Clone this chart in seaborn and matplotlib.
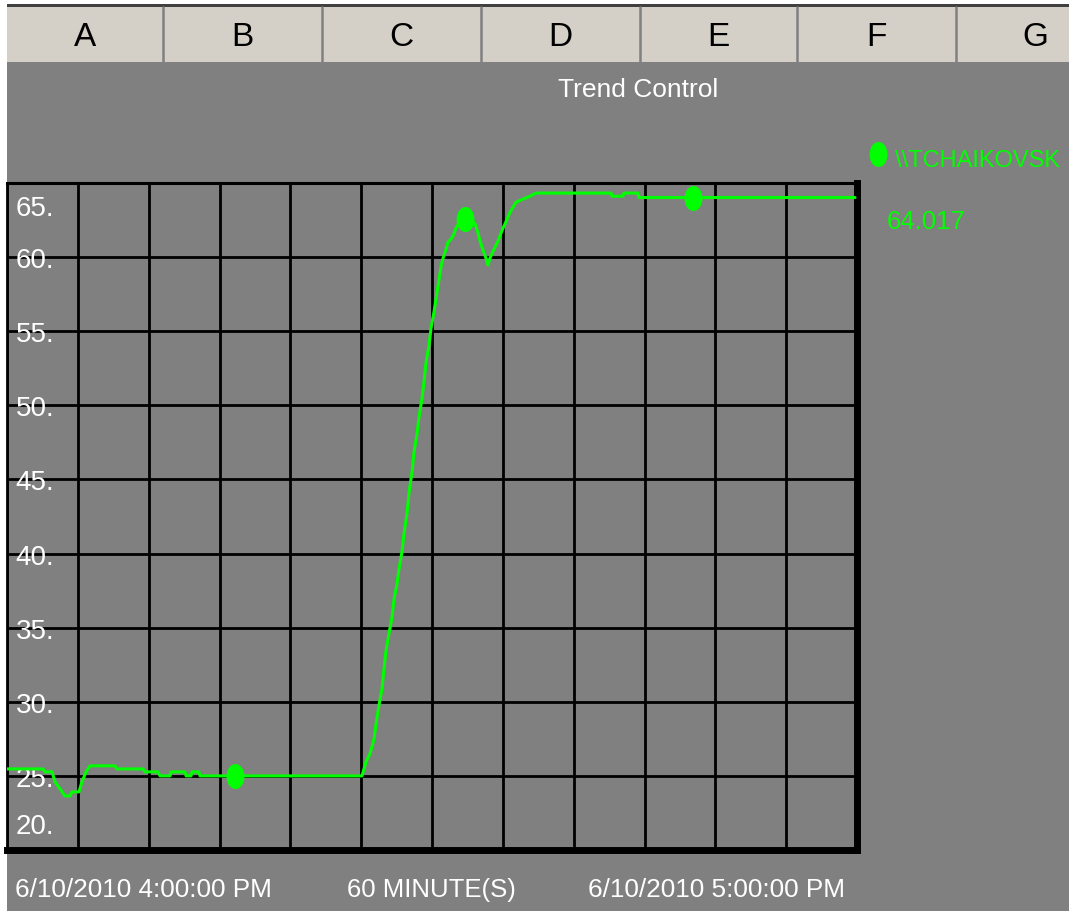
import numpy as np
import matplotlib
matplotlib.use("Agg")
import matplotlib.pyplot as plt
from matplotlib.path import Path
import seaborn as sns

# ==================== data (minutes since 4:00 PM, value) ====================
minutes = [0.00, 2.54, 2.68, 3.18, 3.39, 3.74, 4.09, 4.45, 4.59, 5.08, 5.29, 5.58,
           5.86, 7.62, 7.76, 9.60, 9.74, 10.66, 10.80, 11.51, 11.58, 12.56, 12.64,
           12.99, 13.06, 13.55, 13.62, 25.06, 25.20, 25.34, 25.62, 25.76, 25.91,
           26.05, 26.26, 26.47, 26.61, 26.75, 26.96, 27.18, 27.32, 27.53, 27.67,
           27.88, 28.02, 28.24, 28.38, 28.59, 28.73, 28.94, 29.08, 29.29, 29.44,
           29.58, 29.79, 29.93, 30.14, 30.28, 30.42, 30.56, 30.64, 30.78, 30.99,
           31.13, 31.34, 31.55, 31.69, 31.98, 32.33, 32.68, 33.04, 33.25, 33.39,
           33.60, 33.81, 33.95, 34.09, 34.31, 34.52, 34.66, 34.87, 35.01, 35.15,
           35.36, 35.51, 35.72, 35.93, 36.42, 36.92, 37.34, 42.64, 42.71, 43.48,
           43.55, 44.54, 44.61, 59.86]
values = [25.47, 25.47, 25.27, 25.27, 24.60, 24.13, 23.65, 23.65, 23.92, 23.92, 24.60, 25.27,
          25.68, 25.68, 25.47, 25.47, 25.27, 25.27, 25.00, 25.00, 25.27, 25.27, 25.00,
          25.00, 25.27, 25.27, 25.00, 25.00, 25.47, 25.95, 26.49, 26.96, 27.50,
          28.51, 29.79, 30.87, 32.22, 33.43, 34.58, 35.72, 36.94, 37.95, 38.96,
          40.11, 41.32, 42.74, 44.15, 45.50, 46.85, 48.06, 49.21, 50.42, 51.64,
          52.92, 54.07, 55.21, 56.29, 57.17, 58.04, 58.85, 59.39, 59.93, 60.54,
          61.01, 61.21, 61.55, 61.96, 62.43, 62.70, 62.63, 62.23, 61.62, 61.08,
          60.47, 59.93, 59.46, 59.93, 60.40, 60.81, 61.08, 61.62, 61.96, 62.23,
          62.70, 63.03, 63.37, 63.71, 63.91, 64.11, 64.32, 64.32, 64.11, 64.11,
          64.32, 64.32, 64.02, 64.02]
marker_minutes = [16.09, 32.33, 48.42]
marker_values = [25.0, 62.6, 64.02]

y_ticks = [65, 60, 55, 50, 45, 40, 35, 30, 25, 20]
columns = ["A", "B", "C", "D", "E", "F", "G"]
tag_name = "\\\\TCHAIKOVSK"
tag_value = "64.017"
start_label = "6/10/2010 4:00:00 PM"
span_label = "60 MINUTE(S)"
end_label = "6/10/2010 5:00:00 PM"
title = "Trend Control"

GREEN = "#00ff00"
GRAY = "#808080"
HEADER = "#d4d0c8"
FONT = ["Liberation Sans", "DejaVu Sans"]

sns.set_theme(style="white")
plt.rcParams["font.family"] = FONT

W, H = 1069, 912
fig = plt.figure(figsize=(W / 100, H / 100), dpi=100)
fig.patch.set_facecolor(GRAY)

# background / spreadsheet header in pixel coordinates
bg = fig.add_axes([0, 0, 1, 1])
bg.set_xlim(0, W)
bg.set_ylim(H, 0)
bg.axis("off")
bg.add_patch(plt.Rectangle((0, 0), 7, H, color="white", lw=0))
bg.add_patch(plt.Rectangle((0, 0), W, 5, color="white", lw=0))
bg.add_patch(plt.Rectangle((7, 5), W, 3, color="#404040", lw=0))
bg.add_patch(plt.Rectangle((7, 8), W, 55, color=HEADER, lw=0))
bounds = [7, 163, 322, 481, 640, 797, 956, 1114]
for b in bounds[1:-1]:
    bg.plot([b, b], [8, 63], color=GRAY, lw=1.8)
for i, c in enumerate(columns):
    bg.text((bounds[i] + bounds[i + 1]) / 2, 37, c, ha="center", va="center",
            fontsize=24, color="black")

bg.text(638, 90, title, ha="center", va="center", fontsize=19, color="white")

# legend
ell = Path.unit_circle()
ell = Path(ell.vertices * [0.7, 1.0], ell.codes)
bg.plot([878], [155], marker=ell, ms=17, color=GREEN, ls="none")
bg.text(895, 161, tag_name, ha="left", va="center", fontsize=17, color=GREEN)
bg.text(887, 222, tag_value, ha="left", va="center", fontsize=18.5, color=GREEN)

# bottom labels
bg.text(15, 890, start_label, ha="left", va="center", fontsize=18.8, color="white")
bg.text(347, 890, span_label, ha="left", va="center", fontsize=18.5, color="white")
bg.text(588, 890, end_label, ha="left", va="center", fontsize=18.8, color="white")

# ==================== trend plot ====================
ax = fig.add_axes([7 / W, 1 - 851 / H, 850 / W, 667 / H])
ax.set_facecolor(GRAY)
sns.lineplot(x=minutes, y=values, ax=ax, color=GREEN, lw=2.2, zorder=5)
ax.plot(marker_minutes, marker_values, marker=ell, ms=17, color=GREEN, ls="none",
        zorder=6, clip_on=False)

ax.set_xlim(0, 60)
ax.set_ylim(20, 65)
ax.set_xticks(np.arange(0, 61, 5))
ax.set_yticks(y_ticks)
ax.grid(True, color="black", lw=2.0)
ax.tick_params(length=0, labelbottom=False, labelleft=False)
ax.set_xlabel("")
ax.set_ylabel("")
for side, w in [("left", 2.0), ("top", 2.2), ("bottom", 5.0), ("right", 5.0)]:
    ax.spines[side].set_visible(True)
    ax.spines[side].set_color("black")
    ax.spines[side].set_linewidth(w)

for v in y_ticks:
    ax.text(0.01, min(max(v - 0.2, 21.6), 63.3), f"{v}.", transform=ax.get_yaxis_transform(),
            ha="left", va="center", fontsize=20, color="white", zorder=4)

fig.savefig("out.png", dpi=100, facecolor=fig.get_facecolor())
